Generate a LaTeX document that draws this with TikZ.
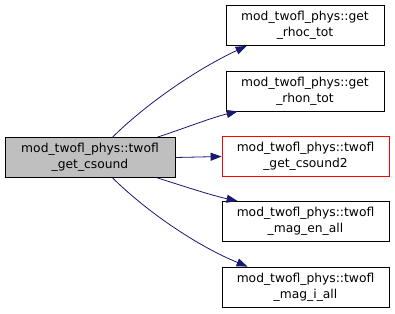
\documentclass[tikz,border=0pt]{standalone}
\usepackage{fontspec}
\setmainfont{DejaVu Sans}
\usetikzlibrary{arrows.meta}
\definecolor{edgeblue}{HTML}{191970}
\definecolor{nodegray}{HTML}{BFBFBF}
\tikzset{
  fn/.style={draw=black, line width=0.8pt, fill=white, minimum height=40pt, align=center, inner sep=0pt, font=\fontsize{12.3}{16}\selectfont},
  call/.style={draw=edgeblue, line width=0.8pt, -{Triangle[length=11pt,width=8pt]}, fill=none},
}
\begin{document}
\begin{tikzpicture}[x=1pt,y=-1pt]
\useasboundingbox (0,0) rectangle (395,313);
\node[fn, fill=nodegray, minimum width=170pt] (src) at (90,157.5) {mod\_twofl\_phys::twofl\\\_get\_csound};
\node[fn, minimum width=158pt] (a) at (305,25.5) {mod\_twofl\_phys::get\\\_rhoc\_tot};
\node[fn, minimum width=158pt] (b) at (305,91) {mod\_twofl\_phys::get\\\_rhon\_tot};
\node[fn, draw=red, minimum width=167pt] (c) at (305.5,156.5) {mod\_twofl\_phys::twofl\\\_get\_csound2};
\node[fn, minimum width=167pt] (d) at (305.5,221.5) {mod\_twofl\_phys::twofl\\\_mag\_en\_all};
\node[fn, minimum width=167pt] (e) at (305.5,287) {mod\_twofl\_phys::twofl\\\_mag\_i\_all};
\draw[call] ([xshift=108pt]src.north west) .. controls (145,105) and (195,70) .. ([xshift=21pt]a.south west);
\draw[call] ([xshift=-18pt]src.north east) .. controls (180,130) and (210,118) .. ([xshift=12pt]b.south west);
\draw[call] (src.east) -- (c.west);
\draw[call] ([xshift=-18pt]src.south east) .. controls (180,185) and (210,195) .. ([xshift=16pt]d.north west);
\draw[call] ([xshift=108pt]src.south west) .. controls (145,210) and (195,245) .. ([xshift=26pt]e.north west);
\end{tikzpicture}
\end{document}
